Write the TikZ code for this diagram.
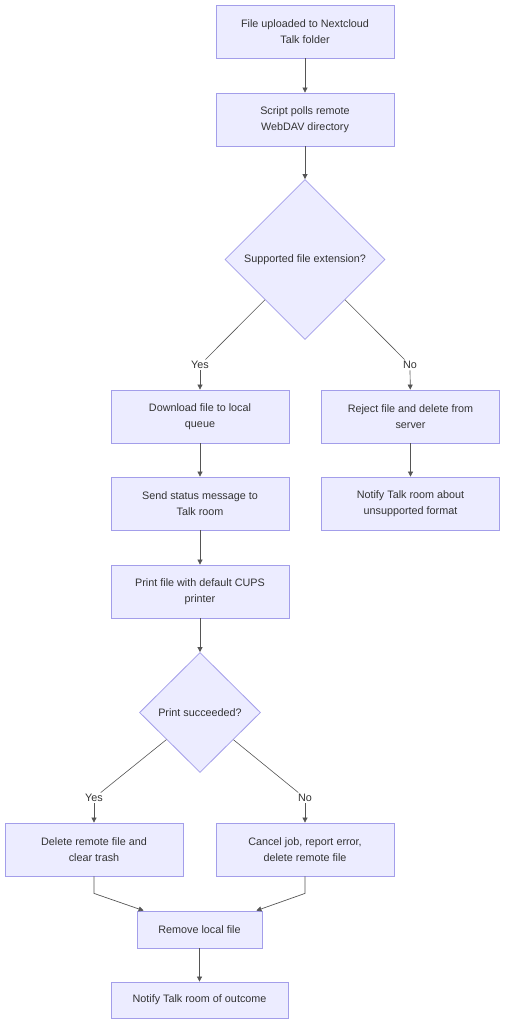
\documentclass[tikz,border=0pt]{standalone}
\usepackage{fontspec}
\setmainfont{Liberation Sans}
\usetikzlibrary{shapes.geometric,arrows.meta,calc}
\definecolor{nodefill}{HTML}{ECECFF}
\definecolor{nodeborder}{HTML}{A39EEA}
\definecolor{edgecol}{HTML}{555555}
\definecolor{txt}{HTML}{333333}
\begin{document}
\begin{tikzpicture}[x=1pt,y=-1pt,
  txtfont/.style={font=\fontsize{10.8}{16}\selectfont, text=txt},
  box/.style={draw=nodeborder, fill=nodefill, line width=0.8pt, minimum width=178pt, minimum height=53pt, align=center, txtfont, inner sep=0pt},
  dia/.style={diamond, draw=nodeborder, fill=nodefill, line width=0.8pt, inner sep=0pt, txtfont},
  lbl/.style={txtfont, inner sep=1.5pt, fill=white},
  arr/.style={draw=edgecol, line width=0.7pt, -{Triangle[length=5pt,width=5pt]}},
  ln/.style={draw=edgecol, line width=0.6pt}]
\useasboundingbox (0,0) rectangle (505,1024);
\node[box] (n1) at (305,31.5) {File uploaded to Nextcloud\\Talk folder};
\node[box] (n2) at (305,119.5) {Script polls remote\\WebDAV directory};
\node[dia, minimum width=160pt, minimum height=160pt] (d1) at (305,259.5) {Supported file extension?};
\node[lbl] (y1) at (200,365) {Yes};
\node[lbl] (no1) at (410,365) {No};
\node[box] (n3) at (200,416.5) {Download file to local\\queue};
\node[box] (n4) at (410.5,416.5) {Reject file and delete from\\server};
\node[box] (n5) at (200,503.5) {Send status message to\\Talk room};
\node[box] (n6) at (410.5,503.5) {Notify Talk room about\\unsupported format};
\node[box] (n7) at (200,591.5) {Print file with default CUPS\\printer};
\node[dia, minimum width=121pt, minimum height=120pt] (d2) at (200,712.5) {Print succeeded?};
\node[lbl] (y2) at (94,798) {Yes};
\node[lbl] (no2) at (305,798) {No};
\node[box] (n8) at (94,849.5) {Delete remote file and\\clear trash};
\node[box] (n9) at (305,849.5) {Cancel job, report error,\\delete remote file};
\node[box, minimum width=125pt, minimum height=37pt] (n10) at (199.5,929.5) {Remove local file};
\node[box, minimum width=177pt, minimum height=36pt] (n11) at (199.5,1000) {Notify Talk room of outcome};
\draw[arr] (n1) -- (n2);
\draw[arr] (n2) -- (d1);
\draw[ln] (d1) -- (y1);
\draw[ln] (d1) -- (no1);
\draw[arr] (y1) -- (n3);
\draw[arr] (no1) -- (n4);
\draw[arr] (n3) -- (n5);
\draw[arr] (n4) -- (n6);
\draw[arr] (n5) -- (n7);
\draw[arr] (n7) -- (d2);
\draw[ln] (d2) -- (y2);
\draw[ln] (d2) -- (no2);
\draw[arr] (y2) -- (n8);
\draw[arr] (no2) -- (n9);
\draw[arr] (n8.south) -- ($(n8.south)+(0,17)$) -- ($(n10.north west)+(7,0)$);
\draw[arr] (n9.south) -- ($(n9.south)+(0,17)$) -- ($(n10.north east)+(-6,0)$);
\draw[arr] (n10) -- (n11);
\end{tikzpicture}
\end{document}
